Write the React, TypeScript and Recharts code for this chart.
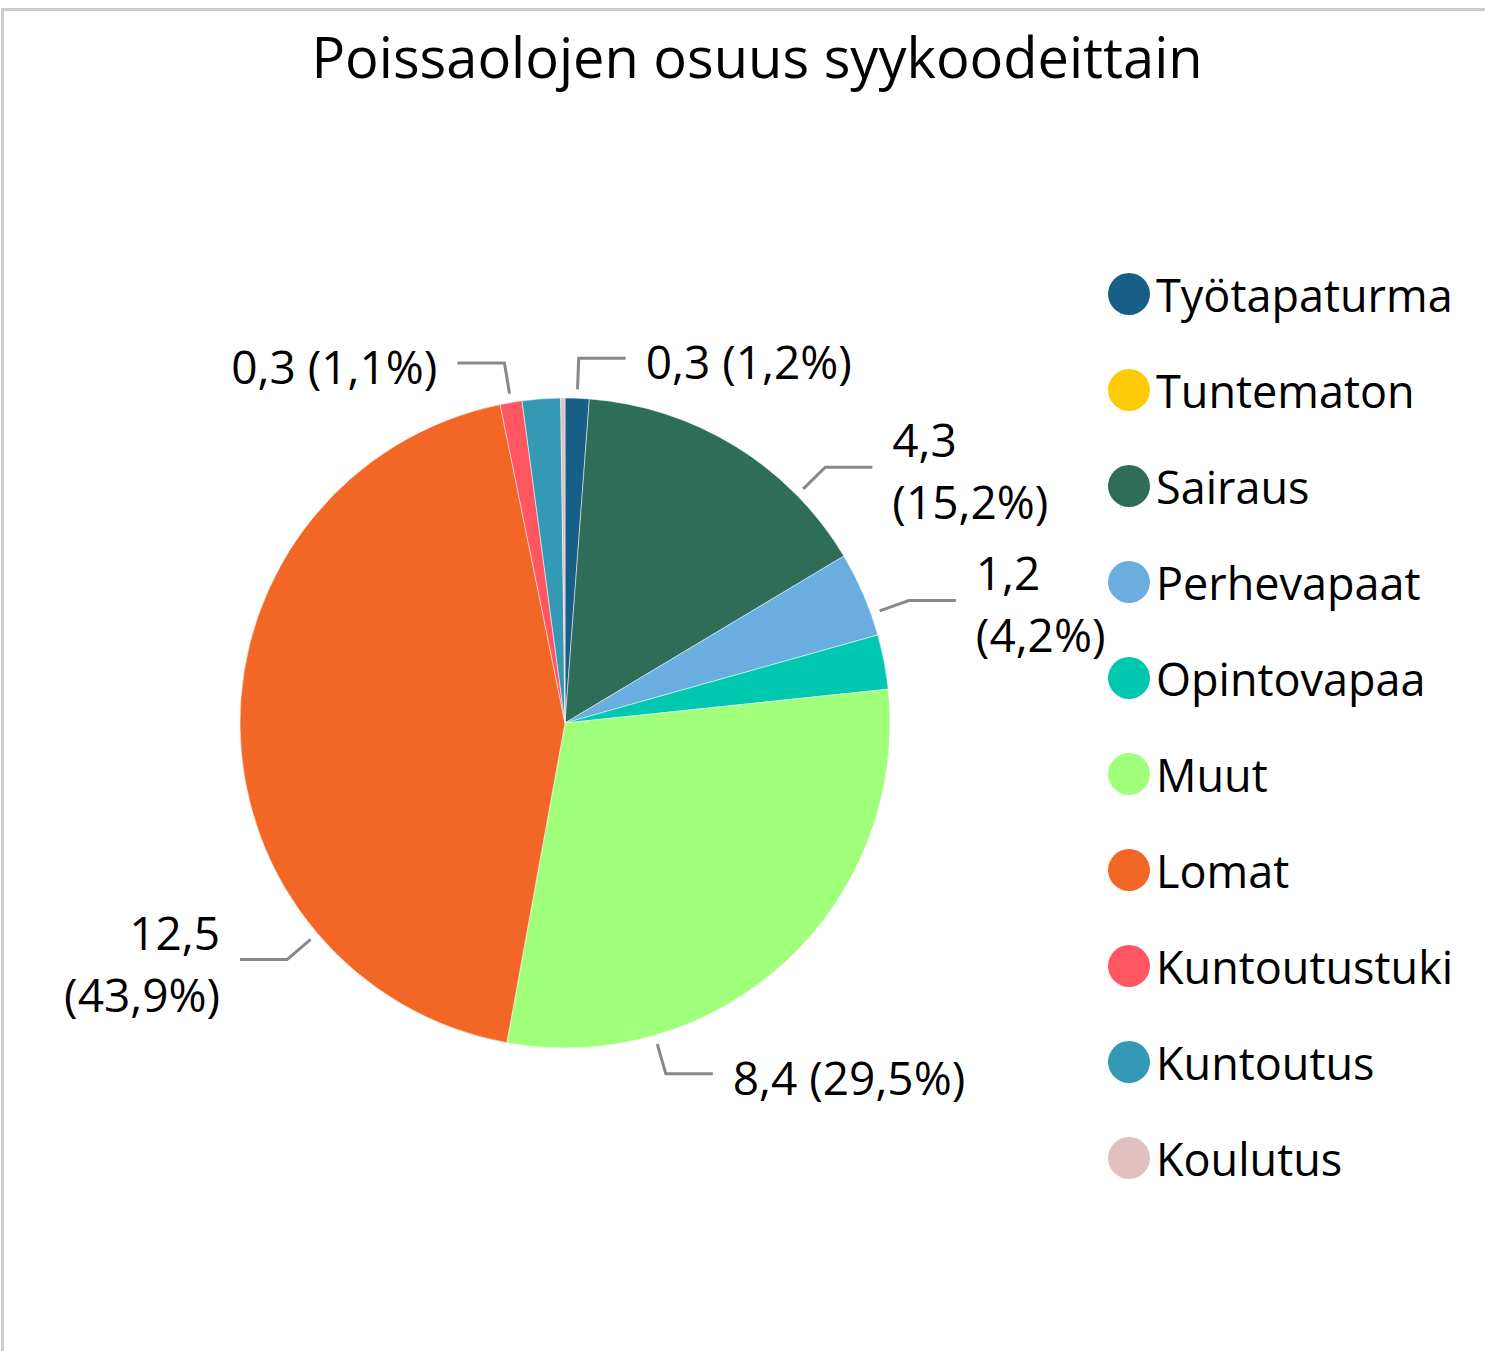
import { PieChart, Pie, Cell, Legend } from 'recharts';

// Poissaolot syykoodeittain
const CATEGORIES = [
  'Työtapaturma',
  'Tuntematon',
  'Sairaus',
  'Perhevapaat',
  'Opintovapaa',
  'Muut',
  'Lomat',
  'Kuntoutustuki',
  'Kuntoutus',
  'Koulutus',
];
const VALUES = [0.34, 0, 4.33, 1.2, 0.77, 8.4, 12.5, 0.31, 0.54, 0.06];
const COLORS = [
  '#175F87',
  '#FFCA08',
  '#2E6E58',
  '#6AAEE0',
  '#00C8B0',
  '#A0FF7B',
  '#F26725',
  '#FF5661',
  '#3399B5',
  '#DFBFC0',
];

// which slices get a data label, how far the leader is moved (deg) and whether it wraps
const LABELS: Record<string, { shift: number; wrap: boolean }> = {
  Työtapaturma: { shift: 0, wrap: false },
  Sairaus: { shift: 13.8, wrap: true },
  Perhevapaat: { shift: 3.7, wrap: true },
  Muut: { shift: 26.8, wrap: false },
  Lomat: { shift: -39.8, wrap: true },
  Kuntoutustuki: { shift: 0, wrap: false },
};

const FONT = "'Open Sans', 'Noto Sans', sans-serif";
const RAD = Math.PI / 180;

const data = CATEGORIES.map((name, i) => ({ name, value: VALUES[i] }));

const fmt = (n: number) => n.toFixed(1).replace('.', ',');

function renderLabel(props: any) {
  const { cx, cy, midAngle, outerRadius, percent, value, name } = props;
  const cfg = LABELS[name];
  if (!cfg) return null;
  const a = (90 - midAngle + cfg.shift) * RAD;
  const pt = (r: number) => [cx + r * Math.sin(a), cy - r * Math.cos(a)];
  const [x0, y0] = pt(outerRadius + 9);
  const [x1, y1] = pt(outerRadius + 40);
  const dir = Math.sin(a) >= 0 ? 1 : -1;
  const x2 = x1 + dir * 47;
  const tx = x2 + dir * 20;
  const v = fmt(value);
  const p = `(${fmt(percent * 100)}%)`;
  const lines = cfg.wrap ? [v, p] : [`${v} ${p}`];
  const firstBase = cfg.wrap ? y1 - 10 : y1 + 21;
  return (
    <g key={`lbl-${name}`}>
      <polyline
        points={`${x0},${y0} ${x1},${y1} ${x2},${y1}`}
        fill="none"
        stroke="#888"
        strokeWidth={3}
      />
      <text
        x={tx}
        y={firstBase}
        textAnchor={dir > 0 ? 'start' : 'end'}
        fontFamily={FONT}
        fontSize={46}
        fill="#000"
      >
        {lines.map((t, i) => (
          <tspan key={i} x={tx} dy={i === 0 ? 0 : 62}>
            {t}
          </tspan>
        ))}
      </text>
    </g>
  );
}

// legend in data order (Recharts hands the payload over reversed here)
function renderLegend(props: any) {
  const payload = props.payload || [];
  const colorOf = (name: string, i: number) => {
    const hit = payload.find((e: any) => e.value === name);
    return (hit && hit.color) || COLORS[i];
  };
  return (
    <div style={{ fontFamily: FONT }}>
      {CATEGORIES.map((name, i) => (
        <div key={name} style={{ height: 96, display: 'flex', alignItems: 'center' }}>
          <span
            style={{
              width: 42,
              height: 42,
              borderRadius: '50%',
              background: colorOf(name, i),
              display: 'inline-block',
              flex: 'none',
            }}
          />
          <span style={{ marginLeft: 6, fontSize: 45, lineHeight: 1, color: '#000' }}>{name}</span>
        </div>
      ))}
    </div>
  );
}

export default function App() {
  return (
    <div style={{ position: 'relative', width: 1485, height: 1351, overflow: 'hidden', background: '#fff' }}>
      <style>{'body{margin:0}'}</style>
      <div
        style={{
          position: 'absolute',
          left: 1,
          top: 8,
          width: 1500,
          height: 1346,
          border: '3px solid #cccccc',
          boxSizing: 'border-box',
        }}
      />
      <div
        style={{
          position: 'absolute',
          left: 57,
          top: 28,
          width: 1400,
          textAlign: 'center',
          fontFamily: FONT,
          fontSize: 56,
          lineHeight: 1,
          color: '#000',
        }}
      >
        Poissaolojen osuus syykoodeittain
      </div>
      <div style={{ position: 'absolute', left: 0, top: 0 }}>
        <PieChart width={1485} height={1351} margin={{ top: 0, right: 0, bottom: 0, left: 0 }}>
          <Pie
            data={data}
            dataKey="value"
            nameKey="name"
            cx={565}
            cy={723}
            outerRadius={325}
            startAngle={90}
            endAngle={-270}
            stroke="#fff"
            strokeWidth={0.5}
            label={renderLabel}
            labelLine={false}
            isAnimationActive={false}
          >
            {data.map((d, i) => (
              <Cell key={d.name} fill={COLORS[i]} />
            ))}
          </Pie>
          <Legend
            layout="vertical"
            align="right"
            verticalAlign="middle"
            content={renderLegend}
            wrapperStyle={{ left: 1108, top: 246, width: 377 }}
          />
        </PieChart>
      </div>
    </div>
  );
}
